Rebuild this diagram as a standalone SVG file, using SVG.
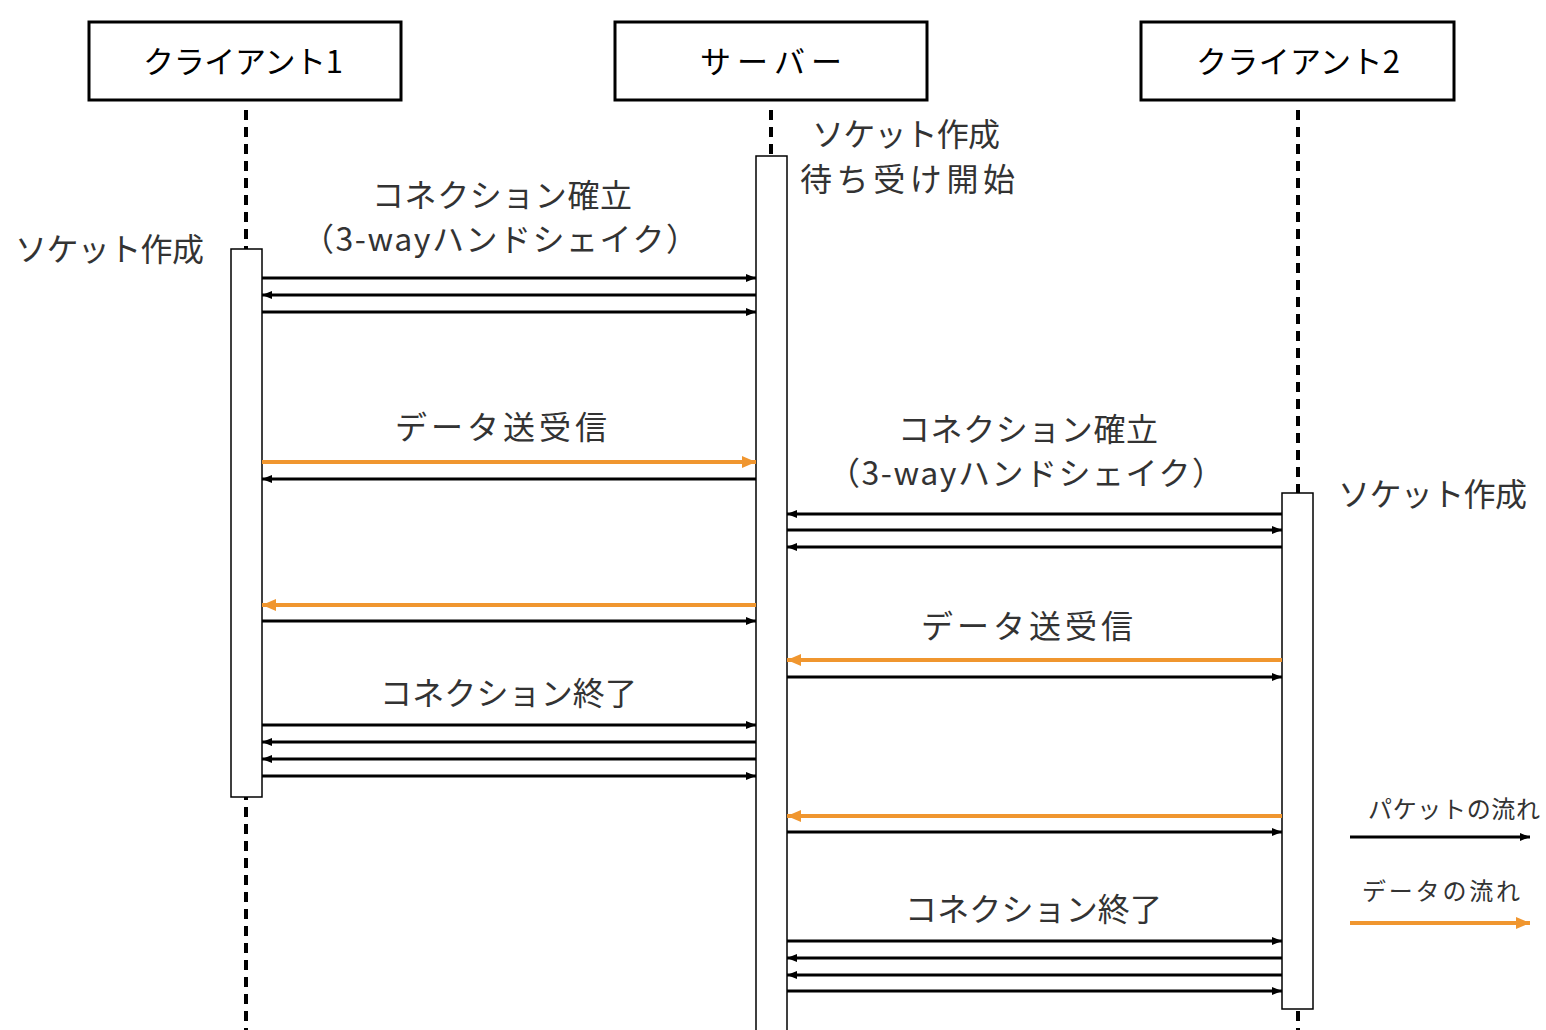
<svg xmlns="http://www.w3.org/2000/svg" width="1546" height="1030" viewBox="0 0 1546 1030">
<defs>
<style>
.box{fill:#fff;stroke:#000;stroke-width:3}
.title{font-family:"Noto Sans CJK JP","Noto Sans",sans-serif;font-size:31px;fill:#000}
.life{stroke:#000;stroke-width:4;stroke-dasharray:10 7;fill:none}
.act{fill:#fff;stroke:#000;stroke-width:1.5}
.lbl{font-family:"Noto Sans CJK JP","Noto Sans",sans-serif;font-size:32px;fill:#333}
.leg{font-family:"Noto Sans CJK JP","Noto Sans",sans-serif;font-size:24px;fill:#333}
.pk{stroke:#000;stroke-width:3;fill:none;marker-end:url(#ah)}
.dt{stroke:#f0962f;stroke-width:4;fill:none;marker-end:url(#ao)}
</style>
<marker id="ah" markerUnits="userSpaceOnUse" markerWidth="10" markerHeight="10" viewBox="0 0 10 10" refX="10" refY="5" orient="auto">
<path d="M0,1 L10,5 L0,9 Z" fill="#000"/>
</marker>
<marker id="ao" markerUnits="userSpaceOnUse" markerWidth="14" markerHeight="14" viewBox="0 0 14 14" refX="14" refY="7" orient="auto">
<path d="M0,1 L14,7 L0,13 Z" fill="#f0962f"/>
</marker>
</defs>
<rect width="1546" height="1030" fill="#fff"/>
<g id="lifelines">
<line class="life" x1="246" y1="110" x2="246" y2="1030"/>
<line class="life" x1="771" y1="110" x2="771" y2="156"/>
<line class="life" x1="1298" y1="110" x2="1298" y2="1030"/>
</g>
<g id="client1">
<rect class="box" x="89" y="22" width="312" height="78"/>
<text class="title" x="143" y="73" textLength="200" lengthAdjust="spacing">クライアント1</text>
<rect class="act" x="231" y="249" width="31" height="548"/>
<text class="lbl" x="15" y="261" textLength="189" lengthAdjust="spacing">ソケット作成</text>
</g>
<g id="server">
<rect class="box" x="615" y="22" width="312" height="78"/>
<text class="title" x="700" y="73" textLength="142" lengthAdjust="spacing">サーバー</text>
<rect class="act" x="756" y="156" width="31" height="880"/>
<text class="lbl" x="812" y="146" textLength="188" lengthAdjust="spacing">ソケット作成</text>
<text class="lbl" x="800" y="191" textLength="215" lengthAdjust="spacing">待ち受け開始</text>
</g>
<g id="client2">
<rect class="box" x="1141" y="22" width="313" height="78"/>
<text class="title" x="1196" y="73" textLength="204" lengthAdjust="spacing">クライアント2</text>
<rect class="act" x="1282" y="493" width="31" height="516"/>
<text class="lbl" x="1338" y="506" textLength="189" lengthAdjust="spacing">ソケット作成</text>
</g>
<g id="labels">
<text class="lbl" x="372" y="207" textLength="260" lengthAdjust="spacing">コネクション確立</text>
<text class="lbl" x="302" y="251" textLength="396" lengthAdjust="spacing">（3-wayハンドシェイク）</text>
<text class="lbl" x="395" y="439" textLength="212" lengthAdjust="spacing">データ送受信</text>
<text class="lbl" x="898" y="441" textLength="260" lengthAdjust="spacing">コネクション確立</text>
<text class="lbl" x="828" y="485" textLength="396" lengthAdjust="spacing">（3-wayハンドシェイク）</text>
<text class="lbl" x="921" y="638" textLength="212" lengthAdjust="spacing">データ送受信</text>
<text class="lbl" x="380" y="705" textLength="257" lengthAdjust="spacing">コネクション終了</text>
<text class="lbl" x="905" y="921" textLength="257" lengthAdjust="spacing">コネクション終了</text>
</g>
<g id="connectors">
<line class="pk" x1="262" y1="278" x2="756" y2="278"/>
<line class="pk" x1="756" y1="295" x2="262" y2="295"/>
<line class="pk" x1="262" y1="312" x2="756" y2="312"/>
<line class="dt" x1="262" y1="462" x2="756" y2="462"/>
<line class="pk" x1="756" y1="479" x2="262" y2="479"/>
<line class="pk" x1="1282" y1="514" x2="787" y2="514"/>
<line class="pk" x1="787" y1="530" x2="1282" y2="530"/>
<line class="pk" x1="1282" y1="547" x2="787" y2="547"/>
<line class="dt" x1="756" y1="605" x2="262" y2="605"/>
<line class="pk" x1="262" y1="621" x2="756" y2="621"/>
<line class="dt" x1="1282" y1="660" x2="787" y2="660"/>
<line class="pk" x1="787" y1="677" x2="1282" y2="677"/>
<line class="pk" x1="262" y1="725" x2="756" y2="725"/>
<line class="pk" x1="756" y1="742" x2="262" y2="742"/>
<line class="pk" x1="756" y1="759" x2="262" y2="759"/>
<line class="pk" x1="262" y1="776" x2="756" y2="776"/>
<line class="dt" x1="1282" y1="816" x2="787" y2="816"/>
<line class="pk" x1="787" y1="832" x2="1282" y2="832"/>
<line class="pk" x1="787" y1="941" x2="1282" y2="941"/>
<line class="pk" x1="1282" y1="958" x2="787" y2="958"/>
<line class="pk" x1="1282" y1="975" x2="787" y2="975"/>
<line class="pk" x1="787" y1="991" x2="1282" y2="991"/>
</g>
<g id="legend">
<text class="leg" x="1368" y="818" textLength="172" lengthAdjust="spacing">パケットの流れ</text>
<line class="pk" x1="1350" y1="837" x2="1530" y2="837"/>
<text class="leg" x="1362" y="900" textLength="158" lengthAdjust="spacing">データの流れ</text>
<line class="dt" x1="1350" y1="923" x2="1530" y2="923"/>
</g>
</svg>
